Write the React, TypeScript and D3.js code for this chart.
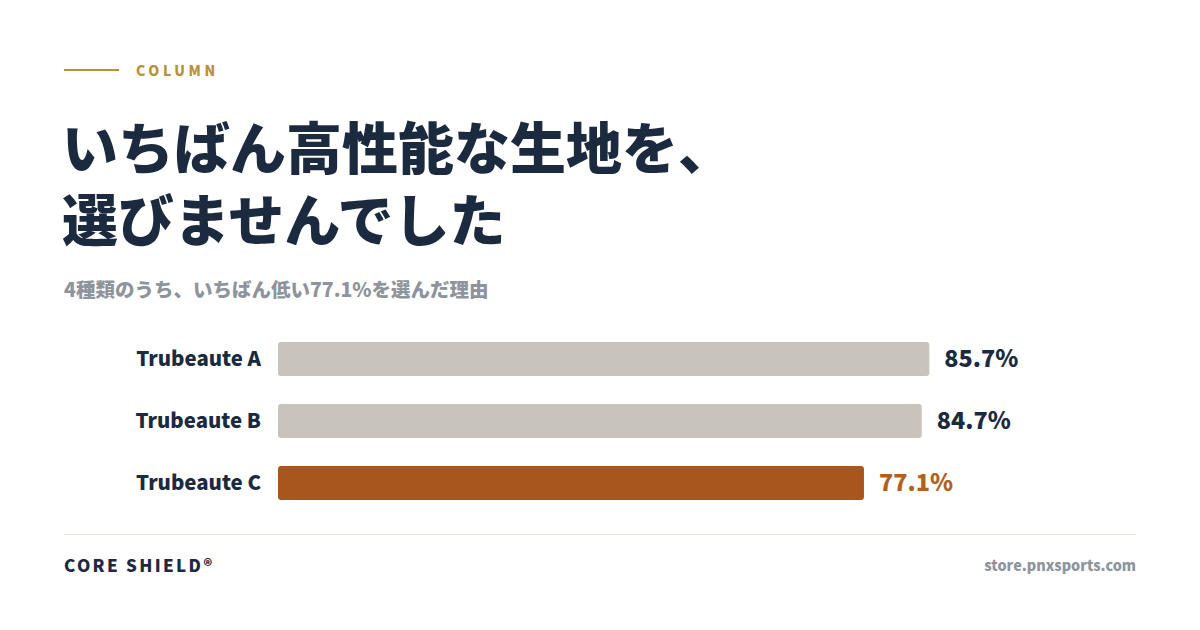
import React, { useRef, useEffect } from 'react';
import * as d3 from 'd3';

const categories = ['Trubeaute A', 'Trubeaute B', 'Trubeaute C'];
const values = [85.7, 84.7, 77.1];
const highlight = 'Trubeaute C';

const titleLines = ['いちばん高性能な生地を、', '選びませんでした'];
const subtitle = '4種類のうち、いちばん低い77.1%を選んだ理由';

const W = 1200;
const H = 630;
const FONT = '"Noto Sans CJK JP", "Noto Sans", sans-serif';
const NAVY = '#1b2a3f';
const GOLD = '#b8913a';
const GREY = '#8e949c';

export default function App() {
  const svgRef = useRef<SVGSVGElement>(null);

  useEffect(() => {
    if (!svgRef.current) return;
    const svg = d3.select(svgRef.current);
    svg.selectAll('*').remove();

    svg.append('rect').attr('width', W).attr('height', H).attr('fill', '#ffffff');

    // header
    svg.append('line')
      .attr('x1', 64).attr('x2', 119).attr('y1', 70).attr('y2', 70)
      .attr('stroke', GOLD).attr('stroke-width', 2);
    svg.append('text')
      .attr('x', 136).attr('y', 76)
      .attr('fill', GOLD)
      .attr('font-family', FONT).attr('font-weight', 900).attr('font-size', 14)
      .attr('letter-spacing', 3.6)
      .text('COLUMN');

    // title, one text element with a tspan per line
    const title = svg.append('text')
      .attr('y', 169)
      .attr('fill', NAVY)
      .attr('font-family', FONT).attr('font-weight', 900).attr('font-size', 56);
    title.selectAll('tspan')
      .data(titleLines)
      .enter()
      .append('tspan')
      .attr('x', 62)
      .attr('dy', (d, i) => (i === 0 ? 0 : 72))
      .text(d => d);

    svg.append('text')
      .attr('x', 64).attr('y', 297)
      .attr('fill', GREY)
      .attr('font-family', FONT).attr('font-weight', 900).attr('font-size', 19.5)
      .text(subtitle);

    // bars
    const x = d3.scaleLinear().domain([0, 100]).range([278, 1038]);
    const y = d3.scaleBand<string>()
      .domain(categories)
      .range([342, 500])
      .paddingInner(28 / 62)
      .paddingOuter(0);

    const data = categories.map((c, i) => ({ name: c, value: values[i] }));

    const rows = svg.selectAll('.row')
      .data(data)
      .enter()
      .append('g')
      .attr('class', 'row');

    rows.append('rect')
      .attr('x', x(0))
      .attr('y', d => y(d.name) as number)
      .attr('width', d => x(d.value) - x(0))
      .attr('height', y.bandwidth())
      .attr('rx', 3)
      .attr('fill', d => (d.name === highlight ? '#a8561e' : '#c8c3bb'));

    rows.append('text')
      .attr('x', 261)
      .attr('y', d => (y(d.name) as number) + y.bandwidth() / 2)
      .attr('dy', '0.35em')
      .attr('text-anchor', 'end')
      .attr('fill', NAVY)
      .attr('font-family', FONT).attr('font-weight', 900).attr('font-size', 20.4)
      .text(d => d.name);

    rows.append('text')
      .attr('x', d => x(d.value) + 15)
      .attr('y', d => (y(d.name) as number) + y.bandwidth() / 2)
      .attr('dy', '0.35em')
      .attr('fill', d => (d.name === highlight ? '#b0601f' : NAVY))
      .attr('font-family', FONT).attr('font-weight', 900).attr('font-size', 23.4)
      .text(d => `${d.value.toFixed(1)}%`);

    // footer
    svg.append('line')
      .attr('x1', 64).attr('x2', 1136).attr('y1', 534.5).attr('y2', 534.5)
      .attr('stroke', '#e8e4dc').attr('stroke-width', 1);
    svg.append('text')
      .attr('x', 64).attr('y', 572)
      .attr('fill', NAVY)
      .attr('font-family', FONT).attr('font-weight', 900).attr('font-size', 17)
      .attr('letter-spacing', 2.3)
      .text('CORE SHIELD®');
    svg.append('text')
      .attr('x', 1136).attr('y', 571)
      .attr('text-anchor', 'end')
      .attr('fill', GREY)
      .attr('font-family', FONT).attr('font-weight', 900).attr('font-size', 14.4)
      .text('store.pnxsports.com');
  }, []);

  return (
    <div style={{ position: 'fixed', left: 0, top: 0, width: W, height: H }}>
      <svg ref={svgRef} width={W} height={H} />
    </div>
  );
}
